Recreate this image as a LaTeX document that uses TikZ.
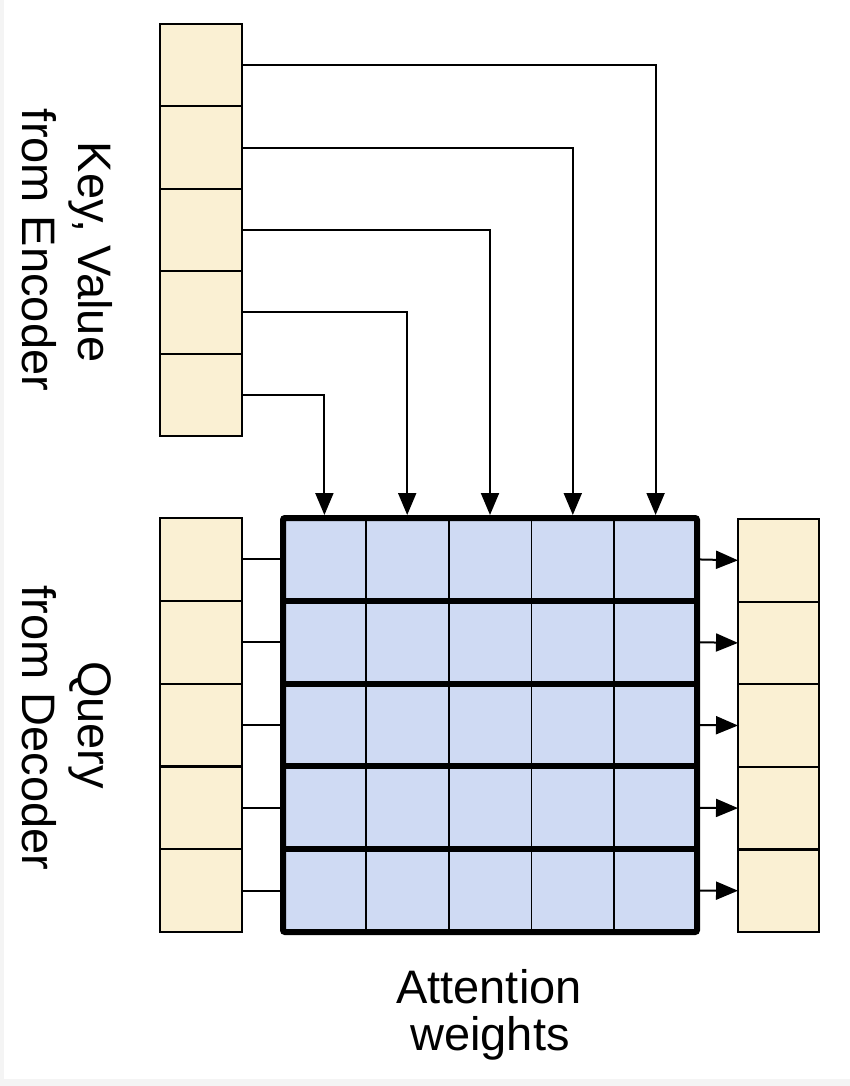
\documentclass[tikz,border=0pt]{standalone}
\usepackage{fontspec}
\setmainfont{Liberation Sans}
\usetikzlibrary{arrows.meta}
\definecolor{beige}{RGB}{250,240,211}
\definecolor{lblue}{RGB}{207,218,243}
\definecolor{bg}{RGB}{244,244,244}
\begin{document}
\begin{tikzpicture}[x=1pt,y=-1pt,
  vec/.style={draw=black, line width=2.2pt, fill=beige, minimum width=82pt, minimum height=#1, inner sep=0pt, outer sep=0pt, anchor=north west},
  vec/.default=82.4pt,
  cell/.style={draw=black, line width=1.8pt, fill=lblue, minimum width=82.8pt, minimum height=82.8pt, inner sep=0pt, outer sep=0pt, anchor=north west},
  conn/.style={line width=2pt, draw=black},
  arr/.style={conn, -{Triangle[width=18pt,length=22pt]}},
  lbl/.style={font=\fontsize{47}{55}\selectfont, inner sep=0pt, anchor=base}]
\useasboundingbox (0,0) rectangle (850,1086);
\fill[bg] (0,0) rectangle (850,1086);
\fill[white] (4,0) rectangle (850,1079);
% key/value column
\foreach \i in {0,...,4}{
  \node[vec=82.4pt] (k\i) at (160,{24+\i*82.4}) {};
}
% query column
\foreach \i in {0,...,4}{
  \node[vec=82.8pt] (q\i) at (160,{518+\i*82.8}) {};
}
% output column
\foreach \i in {0,...,4}{
  \node[vec=82.6pt, minimum width=81pt] (o\i) at (738,{519+\i*82.6}) {};
}
% attention matrix
\foreach \i in {0,...,4}{
  \foreach \j in {0,...,4}{
    \node[cell] (m\i\j) at ({283+\j*82.8},{518+\i*82.8}) {};
  }
}
\foreach \i in {1,...,4}{
  \draw[line width=6pt] (m\i0.north west) -- (m\i4.north east);
}
% key connectors
\foreach \i in {0,...,4}{
  \pgfmathtruncatemacro{\c}{4-\i}
  \draw[arr, shorten >=3pt] (k\i.east) -| (m0\c.north);
}
% query connectors and outputs
\foreach \i in {0,...,4}{
  \draw[conn] (q\i.east) -- (m\i0.west);
  \draw[arr, shorten <=3pt] (m\i4.east) -- (o\i.west);
}
\draw[line width=6pt, rounded corners=2pt] (m00.north west) rectangle (m44.south east);
% labels
\node[lbl, rotate=-90] (kv1) at (78,252) {Key, Value};
\node[lbl, rotate=-90] (kv2) at (23,250) {from Encoder};
\node[lbl, rotate=-90] (qd1) at (78,725) {Query};
\node[lbl, rotate=-90] (qd2) at (23,728) {from Decoder};
\node[lbl] (aw1) at (489,1003) {Attention};
\node[lbl] (aw2) at (490,1050) {weights};
\end{tikzpicture}
\end{document}
